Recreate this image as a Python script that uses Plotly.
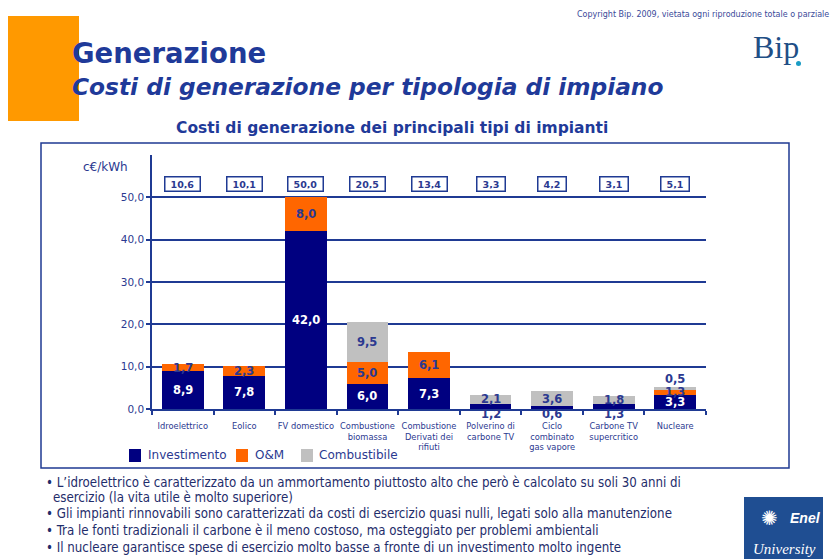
import plotly.graph_objects as go

# ---------------- data ----------------
categories = ["Idroelettrico", "Eolico", "FV domestico", "Combustione<br>biomassa",
              "Combustione<br>Derivati dei<br>rifiuti", "Polverino di<br>carbone TV",
              "Ciclo<br>combinato<br>gas vapore", "Carbone TV<br>supercritico", "Nucleare"]
investimento = [8.9, 7.8, 42.0, 6.0, 7.3, 1.2, 0.6, 1.3, 3.3]
om = [1.7, 2.3, 8.0, 5.0, 6.1, 0.0, 0.0, 0.0, 1.3]
combustibile = [0.0, 0.0, 0.0, 9.5, 0.0, 2.1, 3.6, 1.8, 0.5]
series_names = ["Investimento", "O&M", "Combustibile"]
y_ticks = [0, 10, 20, 30, 40, 50]
bullets = [
    ["• L’idroelettrico è caratterizzato da un ammortamento piuttosto alto che però è calcolato su soli 30 anni di",
     "esercizio (la vita utile è molto superiore)"],
    ["• Gli impianti rinnovabili sono caratterizzati da costi di esercizio quasi nulli, legati solo alla manutenzione"],
    ["• Tra le fonti tradizionali il carbone è il meno costoso, ma osteggiato per problemi ambientali"],
    ["• Il nucleare garantisce spese di esercizio molto basse a fronte di un investimento molto ingente"],
]

# ---------------- style ----------------
W, H = 835, 559
NAVY = "#000080"
ORANGE = "#FF6600"
GRAY = "#C0C0C0"
AXIS = "#1F3A93"
TXT = "#2B3990"
FONT = "DejaVu Sans"
NARROW = "DejaVu Sans Condensed, Liberation Sans, Arial"
colors = [NAVY, ORANGE, GRAY]


def px(x):
    return x / W


def py(y):
    return 1 - y / H


def fmt(v):
    return f"{v:.1f}".replace(".", ",")


def note(x, y, text, size, color, family=FONT, xanchor="center", **kw):
    return dict(x=px(x), y=py(y), xref="paper", yref="paper", text=text, showarrow=False,
                xanchor=xanchor, yanchor="middle", font=dict(family=family, size=size, color=color), **kw)


fig = go.Figure()
for name, vals, col in zip(series_names, [investimento, om, combustibile], colors):
    fig.add_trace(go.Bar(x=categories, y=vals, name=name, marker=dict(color=col, line=dict(width=0)),
                         width=0.68, showlegend=False, hoverinfo="x+y+name"))

annotations = []
# segment labels
for i, cat in enumerate(categories):
    base = 0.0
    for s, vals in enumerate([investimento, om, combustibile]):
        v = vals[i]
        if v <= 0:
            continue
        if s == 0 and v < 2:
            annotations.append(dict(x=cat, y=0, xref="x", yref="y", text=f"<b>{fmt(v)}</b>",
                                    showarrow=False, xanchor="center", yanchor="top", yshift=4,
                                    font=dict(family=FONT, size=11.5, color=TXT)))
        elif s > 0 and v < 1:
            annotations.append(dict(x=cat, y=base + v, xref="x", yref="y", text=f"<b>{fmt(v)}</b>",
                                    showarrow=False, xanchor="center", yanchor="bottom", yshift=-1,
                                    font=dict(family=FONT, size=11.5, color=TXT)))
        else:
            col = "white" if s == 0 else TXT
            annotations.append(dict(x=cat, y=base + v / 2, xref="x", yref="y", text=f"<b>{fmt(v)}</b>",
                                    showarrow=False, xanchor="center", yanchor="middle",
                                    font=dict(family=FONT, size=11.5, color=col)))
        base += v
    total = investimento[i] + om[i] + combustibile[i]
    annotations.append(dict(x=cat, y=py(184), xref="x", yref="paper",
                            text=f"\u00a0<b>{fmt(total)}</b>\u00a0", showarrow=False,
                            xanchor="center", yanchor="middle",
                            bordercolor=AXIS, borderwidth=1.5, borderpad=2, bgcolor="white",
                            height=9, font=dict(family=FONT, size=9.5, color=TXT)))

# axis unit label
annotations.append(note(105, 167, "c€/kWh", 12, TXT))

# titles
annotations += [
    note(70, 53, "<b>Generazione</b>", 27.5, "#1F3A99", xanchor="left"),
    note(70, 86, "<b><i>Costi di generazione per tipologia di impiano</i></b>", 23.3, "#1F3A99", xanchor="left"),
    note(392, 128, "<b>Costi di generazione dei principali tipi di impianti</b>", 15.5, "#1F3A99"),
    note(831, 14, "Copyright Bip. 2009, vietata ogni riproduzione totale o parziale", 8.9, "#3A4A9A",
         family=NARROW, xanchor="right"),
    note(751, 47, "Bip", 32, "#1F4F86", family="Liberation Serif", xanchor="left"),
]

# legend (manual)
legend_pos = [(129, 146), (236, 253), (301, 317)]
shapes = []
for (sx, tx), name, col in zip(legend_pos, series_names, colors):
    shapes.append(dict(type="rect", xref="paper", yref="paper", x0=px(sx), x1=px(sx + 12),
                       y0=py(462), y1=py(449), fillcolor=col, line=dict(width=0)))
    annotations.append(note(tx, 455, name, 12, TXT, xanchor="left"))

# bullets
line_y = [482, 497, 513, 530, 547]
k = 0
for b in bullets:
    for j, line in enumerate(b):
        annotations.append(note(44 if j == 0 else 51, line_y[k], line, 13.2, "#1F2D6B",
                                family=NARROW, xanchor="left"))
        k += 1

# Enel logo
annotations += [
    note(769, 518, "✺", 20, "white"),
    note(805, 518, "<b><i>Enel</i></b>", 14, "white", family="Liberation Sans"),
    note(784, 549, "<i>University</i>", 15, "white", family="Liberation Serif"),
]

shapes += [
    dict(type="rect", xref="paper", yref="paper", x0=px(8), x1=px(79), y0=py(121), y1=py(16),
         fillcolor="#FF9900", line=dict(width=0), layer="below"),
    dict(type="rect", xref="paper", yref="paper", x0=px(41), x1=px(789), y0=py(468), y1=py(143),
         line=dict(color=AXIS, width=1.5), fillcolor="rgba(0,0,0,0)"),
    dict(type="circle", xref="paper", yref="paper", x0=px(796), x1=px(801), y0=py(66), y1=py(61),
         fillcolor="#1A9CC4", line=dict(width=0)),
    dict(type="rect", xref="paper", yref="paper", x0=px(744), x1=px(823), y0=py(559), y1=py(497),
         fillcolor="#1F4E92", line=dict(width=0), layer="below"),
]

fig.update_layout(
    width=W, height=H, margin=dict(l=0, r=0, t=0, b=0, pad=0),
    paper_bgcolor="white", plot_bgcolor="white",
    barmode="stack", bargap=0.32, separators=",.",
    annotations=annotations, shapes=shapes, showlegend=False,
    xaxis=dict(domain=[px(152), px(706)], range=[-0.5, 8.5], type="category",
               showline=True, linecolor=AXIS, linewidth=1.5, tickangle=0, automargin=False,
               ticks="outside", tickson="boundaries", ticklen=4, tickcolor=AXIS, tickwidth=1.5,
               ticklabelstandoff=8,
               tickfont=dict(family=FONT, size=8.3, color=TXT), showgrid=False),
    yaxis=dict(domain=[py(409), py(155)], range=[0, 60], tickvals=y_ticks, tickformat=".1f",
               showline=True, linecolor=AXIS, linewidth=1.5, automargin=False,
               ticks="outside", ticklen=4, tickcolor=AXIS, tickwidth=1.5,
               showgrid=True, gridcolor=AXIS, gridwidth=1.5, zeroline=False,
               tickfont=dict(family=FONT, size=10.5, color=TXT)),
)

fig.write_html("out.html")
